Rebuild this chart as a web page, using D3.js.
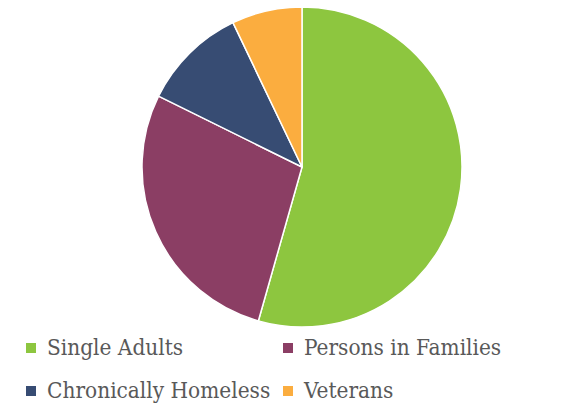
<!DOCTYPE html>
<html>
<head>
<meta charset="utf-8">
<script src="https://cdn.jsdelivr.net/npm/d3@7/dist/d3.min.js"></script>
<style>
  html, body { margin: 0; padding: 0; background: #ffffff; }
  svg { display: block; }
  .legend text { font-family: "DejaVu Serif", serif; font-stretch: condensed; fill: #595959; }
</style>
</head>
<body>
<svg id="chart" width="569" height="404"></svg>
<script>
// Share of the homeless population by group
const categories = ["Single Adults", "Persons in Families", "Chronically Homeless", "Veterans"];
const values = [54.4, 27.9, 10.6, 7.1];
const colors = ["#8dc63f", "#8b3e64", "#374c73", "#fbad3f"];

const svg = d3.select("#chart");
const cx = 302, cy = 167, radius = 160;

const pie = d3.pie().sort(null).value(d => d.value);
const arc = d3.arc().innerRadius(0).outerRadius(radius);
const data = categories.map((c, i) => ({ name: c, value: values[i], color: colors[i] }));

svg.append("g")
  .attr("transform", `translate(${cx},${cy})`)
  .selectAll("path")
  .data(pie(data))
  .join("path")
  .attr("d", arc)
  .attr("fill", d => d.data.color)
  .attr("stroke", "#ffffff")
  .attr("stroke-width", 1.5)
  .attr("stroke-linejoin", "round");

// Legend: two columns, two rows
const legendX = [26, 283];
const legendY = [355, 398];
const legend = svg.append("g").attr("class", "legend");
data.forEach((d, i) => {
  const col = i % 2, row = Math.floor(i / 2);
  const g = legend.append("g");
  g.append("rect")
    .attr("x", legendX[col])
    .attr("y", legendY[row] - 12)
    .attr("width", 10).attr("height", 10)
    .attr("fill", d.color);
  g.append("text")
    .attr("x", legendX[col] + 21)
    .attr("y", legendY[row])
    .attr("font-size", 22.4)
    .text(d.name);
});
</script>
</body>
</html>
